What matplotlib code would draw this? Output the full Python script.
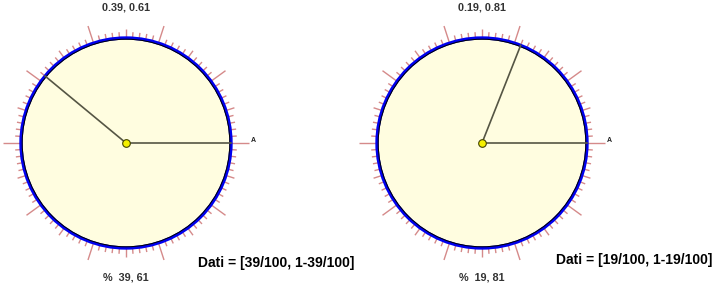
import numpy as np
import matplotlib
matplotlib.use("Agg")
import matplotlib.pyplot as plt
from matplotlib.patches import Circle

fractions = [0.39, 0.19]
numerators = [39, 19]
top_labels = ["0.39, 0.61", "0.19, 0.81"]
bottom_labels = ["%  39, 61", "%  19, 81"]
dati_labels = ["Dati = [39/100, 1-39/100]", "Dati = [19/100, 1-19/100]"]

W, H = 716, 286
fig = plt.figure(figsize=(W / 100, H / 100), dpi=100)
ax = fig.add_axes([0, 0, 1, 1])
ax.set_xlim(0, W)
ax.set_ylim(H, 0)
ax.axis("off")

centers = [(126, 143), (482, 143)]
R = 105
dati_pos = [(198, 263), (556, 260)]

for (cx, cy), frac, tl, bl, dl, dp in zip(centers, fractions, top_labels,
                                          bottom_labels, dati_labels, dati_pos):
    ax.add_patch(Circle((cx, cy), R, facecolor="#fffde0", edgecolor="none", zorder=1))
    # ticks
    for k in range(100):
        a = np.deg2rad(k * 3.6)
        if k % 10 == 0:
            r2 = 123
        elif k % 5 == 0:
            r2 = 114
        else:
            r2 = 111
        ax.plot([cx + R * np.cos(a), cx + r2 * np.cos(a)],
                [cy - R * np.sin(a), cy - r2 * np.sin(a)],
                color="#d58a8a", lw=1.0, zorder=2, solid_capstyle="butt")
    ax.add_patch(Circle((cx, cy), R, facecolor="none", edgecolor="#0000ee", lw=2.4, zorder=3))
    ax.add_patch(Circle((cx, cy), R - 1.2, facecolor="none", edgecolor="black", lw=0.7, zorder=3))
    # radii
    ang = 2 * np.pi * frac
    ax.plot([cx, cx + R], [cy, cy], color="#555544", lw=1.2, zorder=4)
    ax.plot([cx, cx + R * np.cos(ang)], [cy, cy - R * np.sin(ang)],
            color="#555544", lw=1.2, zorder=4)
    ax.plot([cx], [cy], marker="o", ms=5.5, mfc="#f5f000", mec="#444400", mew=0.8, zorder=5)
    ax.text(cx, 8, tl, ha="center", va="center", fontsize=7.8, fontweight="bold",
            color="#333333", family="Liberation Sans")
    ax.text(cx, 277, bl, ha="center", va="center", fontsize=7.8, fontweight="bold",
            color="#333333", family="Liberation Sans")
    ax.text(cx + 127, 141, "A", ha="center", va="center", fontsize=5, fontweight="bold",
            color="#222222", family="Liberation Sans")
    ax.text(dp[0], dp[1], dl, ha="left", va="center", fontsize=10, fontweight="bold",
            color="black", family="Liberation Sans")

fig.savefig("out.png", dpi=100)
